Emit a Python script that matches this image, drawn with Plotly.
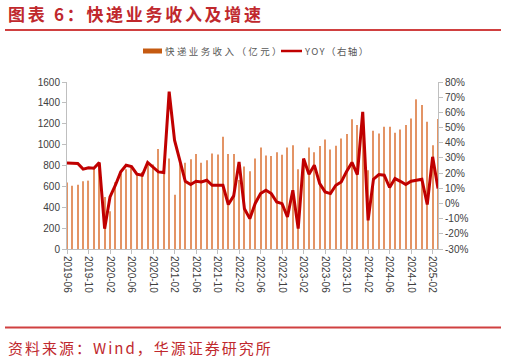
import plotly.graph_objects as go
import pandas as pd

# ---------------- data ----------------
months = [d.strftime("%Y-%m") for d in pd.date_range("2019-06-01", periods=70, freq="MS")]

revenue = [638, 607, 616, 648, 655, 770, 820,
           499, 362, 640, 721, 765, 793, 723, 738, 817, 809, 958, 735,
           866, 520, 818, 826, 861, 909, 826, 851, 915, 906, 1075, 909,
           909, 662, 790, 746, 867, 973, 896, 890, 928, 902, 973, 995,
           765, 860, 973, 928, 986, 1050, 954, 989, 1059, 1101, 1242, 1187,
           1224, 755, 1133, 1107, 1171, 1171, 1114, 1146, 1187, 1251, 1434, 1379,
           1219, 995, 1246]

yoy = [26.7, 26.7, 26.3, 22.6, 23.5, 23.2, 26.9,
       -16.6, 4.3, 12.0, 20.8, 25.2, 24.3, 19.3, 18.6, 27.0, 23.7, 20.8, 20.4,
       73.6, 41.7, 28.5, 14.6, 12.5, 14.6, 14.2, 15.3, 12.0, 12.0, 12.0, -0.7,
       5.0, 27.4, -3.5, -10.0, 0.0, 6.5, 8.7, 6.5, 1.0, -0.1, -8.9, 8.7,
       -16.6, 29.6, 19.3, 25.2, 13.1, 7.6, 6.5, 12.0, 14.2, 21.0, 27.0, 19.0,
       60.4, -11.1, 16.0, 19.0, 18.6, 10.5, 16.4, 14.6, 12.5, 14.6, 15.3, 16.0,
       -0.7, 30.7, 9.8]

tick_labels = months[::4]

left_ticks = [0, 200, 400, 600, 800, 1000, 1200, 1400, 1600]
right_ticks = [-30, -20, -10, 0, 10, 20, 30, 40, 50, 60, 70, 80]

# ---------------- layout constants ----------------
W, H = 506, 361
L, R, T, B = 67, 68, 82, 112
PW, PH = W - L - R, H - T - B

def px(x):
    return (x - L) / PW

def py(y):
    return (H - B - y) / PH

RED = "#C00000"
TITLE_RED = "#C0282D"
BAR = "#E39465"
AX = "#BFBFBF"
TXT = "#404040"

fig = go.Figure()
fig.add_trace(go.Bar(x=months, y=revenue, marker=dict(color=BAR, line=dict(width=0)),
                     name="快递业务收入（亿元）", yaxis="y"))
fig.add_trace(go.Scatter(x=months, y=yoy, mode="lines", line=dict(color=RED, width=3),
                         name="YOY（右轴）", yaxis="y2"))

fig.update_layout(
    width=W, height=H,
    margin=dict(l=L, r=R, t=T, b=B),
    paper_bgcolor="white", plot_bgcolor="white",
    showlegend=False,
    bargap=0.8,
    font=dict(family="Liberation Sans, Arial", size=10, color=TXT),
    xaxis=dict(type="category", range=[0, len(months) - 1],
               tickmode="array", tickvals=tick_labels, ticktext=tick_labels,
               tickangle=90, showline=True, linecolor=AX, linewidth=1,
               ticks="outside", ticklen=4, tickcolor=AX, showgrid=False,
               tickfont=dict(size=10, color=TXT)),
    yaxis=dict(range=[0, 1600], tickvals=left_ticks, showline=True, linecolor=AX,
               linewidth=1, ticks="outside", ticklen=4, tickcolor=AX, showgrid=False,
               zeroline=False, tickfont=dict(size=10, color=TXT)),
    yaxis2=dict(range=[-30, 80], tickvals=right_ticks,
                ticktext=[f"{v}%" for v in right_ticks], overlaying="y", side="right",
                showline=True, linecolor=AX, linewidth=1, ticks="outside", ticklen=4,
                tickcolor=AX, showgrid=False, zeroline=False,
                tickfont=dict(size=10, color=TXT)),
)

shapes = [
    dict(type="line", xref="paper", yref="paper", x0=px(5), x1=px(501), y0=py(30), y1=py(30),
         line=dict(color="#D04040", width=2)),
    dict(type="line", xref="paper", yref="paper", x0=px(5), x1=px(501), y0=py(327.5), y1=py(327.5),
         line=dict(color="#D04040", width=2)),
    dict(type="rect", xref="paper", yref="paper", x0=px(143), x1=px(162), y0=py(53.5), y1=py(48.5),
         fillcolor="#C55A11", line=dict(width=0)),
    dict(type="line", xref="paper", yref="paper", x0=px(281), x1=px(302), y0=py(51), y1=py(51),
         line=dict(color=RED, width=2.5)),
]

annotations = [
    dict(text='<span style="letter-spacing:2.7px"><b>图表 6：快递业务收入及增速</b></span>',
         xref="paper", yref="paper", x=px(6), y=py(14), xanchor="left", yanchor="middle",
         showarrow=False, font=dict(family="Noto Sans CJK SC", size=17, color=TITLE_RED)),
    dict(text='<span style="letter-spacing:2.4px">快递业务收入（亿元）</span>',
         xref="paper", yref="paper", x=px(163), y=py(51),
         xanchor="left", yanchor="middle", showarrow=False,
         font=dict(family="Noto Sans CJK SC", size=9.5, color="#595959")),
    dict(text='<span style="letter-spacing:1.4px">YOY（右轴）</span>',
         xref="paper", yref="paper", x=px(302), y=py(51),
         xanchor="left", yanchor="middle", showarrow=False,
         font=dict(family="Noto Sans CJK SC", size=9.5, color="#595959")),
    dict(text='<span style="letter-spacing:2px">资料来源：Wind，华源证券研究所</span>',
         xref="paper", yref="paper", x=px(6), y=py(347), xanchor="left", yanchor="middle",
         showarrow=False, font=dict(family="Noto Sans CJK SC", size=15, color=TITLE_RED)),
]

fig.update_layout(shapes=shapes, annotations=annotations)
fig.write_html("out.html", config={"displayModeBar": False},
               post_script="document.body.style.margin='0';document.body.style.padding='0';")
